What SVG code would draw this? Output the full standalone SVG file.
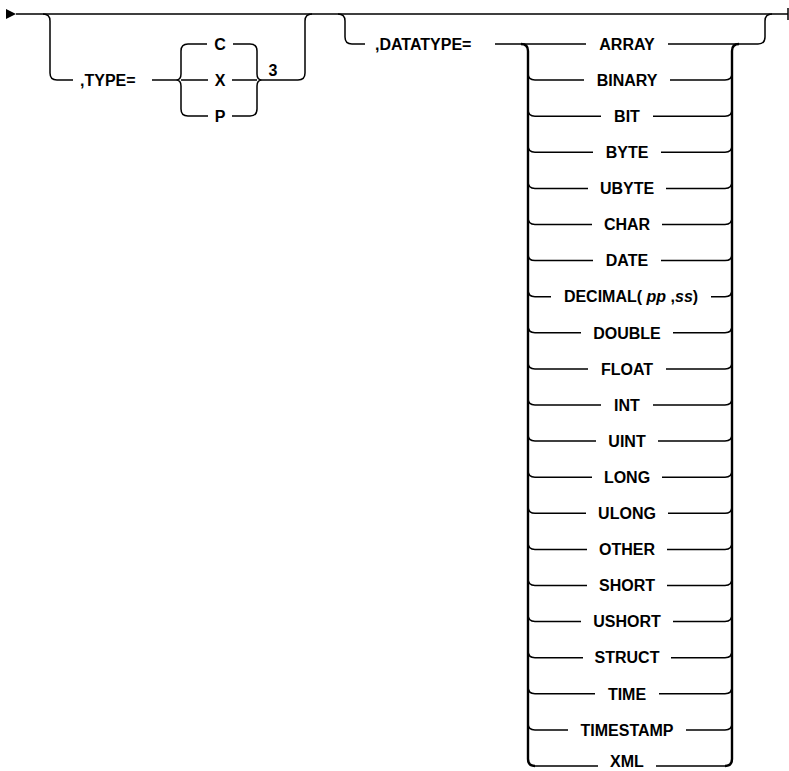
<svg xmlns="http://www.w3.org/2000/svg" width="789" height="771" viewBox="0 0 789 771">
<style>
.ln{fill:none;stroke:#000;stroke-width:1.5;stroke-linecap:butt}
.thk{fill:none;stroke:#000;stroke-width:2.4}
text{font-family:"Liberation Sans",Arial,sans-serif;font-weight:bold;font-size:16px;fill:#000}
.c{text-anchor:middle}
.it{font-style:italic}
</style>
<rect width="789" height="771" fill="#fff"/>
<g id="connectors">
<polygon points="6,9 6,19 16,14" fill="#000"/>
<path class="ln" d="M16,14 L788,14 M788,8 L788,20"/>
<!-- group 1 bracket -->
<path class="ln" d="M43,14 Q50,14 50,21 L50,73 Q50,80 57,80 L73,80"/>
<path class="ln" d="M152,80 L176,80"/>
<path class="ln" d="M188,44 Q181,44 181,51 L181,74 Q181,80 176,80 Q181,80 181,86 L181,109 Q181,116 188,116"/>
<path class="ln" d="M188,44 L207,44 M233,44 L250,44"/>
<path class="ln" d="M181,80 L208,80 M232,80 L257,80"/>
<path class="ln" d="M188,116 L208,116 M232,116 L250,116"/>
<path class="ln" d="M250,44 Q257,44 257,51 L257,74 Q257,80 262,80 Q257,80 257,86 L257,109 Q257,116 250,116"/>
<path class="ln" d="M262,80 L298,80 Q305,80 305,73 L305,21 Q305,14 312,14"/>
<!-- group 2 bracket -->
<path class="ln" d="M338,14 Q345,14 345,21 L345,37 Q345,44 352,44 L365,44"/>
<path class="ln" d="M495,44 L586,44 M668,44 L758,44 Q765,44 765,37 L765,21 Q765,14 772,14"/>
<path class="thk" d="M521,44 Q528,44 528,51 L528,759 Q528,766 535,766"/>
<path class="thk" d="M725,766 Q732,766 732,759 L732,51 Q732,44 739,44"/>
<!-- rows left/right segments -->
<path class="ln" d="
M528,73.1 Q528,80.1 535,80.1 L584,80.1 M670,80.1 L725,80.1 Q732,80.1 732,73.1
M528,109.2 Q528,116.2 535,116.2 L601,116.2 M653,116.2 L725,116.2 Q732,116.2 732,109.2
M528,145.3 Q528,152.3 535,152.3 L593,152.3 M661,152.3 L725,152.3 Q732,152.3 732,145.3
M528,181.4 Q528,188.4 535,188.4 L588,188.4 M666,188.4 L725,188.4 Q732,188.4 732,181.4
M528,217.5 Q528,224.5 535,224.5 L592,224.5 M662,224.5 L725,224.5 Q732,224.5 732,217.5
M528,253.6 Q528,260.6 535,260.6 L593,260.6 M661,260.6 L725,260.6 Q732,260.6 732,253.6
M528,289.7 Q528,296.7 535,296.7 L551,296.7 M711,296.7 L725,296.7 Q732,296.7 732,289.7
M528,325.8 Q528,332.8 535,332.8 L581,332.8 M673,332.8 L725,332.8 Q732,332.8 732,325.8
M528,361.9 Q528,368.9 535,368.9 L588,368.9 M666,368.9 L725,368.9 Q732,368.9 732,361.9
M528,398 Q528,405 535,405 L601,405 M653,405 L725,405 Q732,405 732,398
M528,434.1 Q528,441.1 535,441.1 L596,441.1 M658,441.1 L725,441.1 Q732,441.1 732,434.1
M528,470.2 Q528,477.2 535,477.2 L592,477.2 M662,477.2 L725,477.2 Q732,477.2 732,470.2
M528,506.3 Q528,513.3 535,513.3 L586,513.3 M668,513.3 L725,513.3 Q732,513.3 732,506.3
M528,542.4 Q528,549.4 535,549.4 L587,549.4 M667,549.4 L725,549.4 Q732,549.4 732,542.4
M528,578.5 Q528,585.5 535,585.5 L587,585.5 M667,585.5 L725,585.5 Q732,585.5 732,578.5
M528,614.6 Q528,621.6 535,621.6 L581,621.6 M673,621.6 L725,621.6 Q732,621.6 732,614.6
M528,650.7 Q528,657.7 535,657.7 L583,657.7 M671,657.7 L725,657.7 Q732,657.7 732,650.7
M528,686.8 Q528,693.8 535,693.8 L595,693.8 M659,693.8 L725,693.8 Q732,693.8 732,686.8
M528,722.9 Q528,729.9 535,729.9 L568,729.9 M686,729.9 L725,729.9 Q732,729.9 732,722.9
M535,766 L598,766 M656,766 L725,766"/>
</g>
<g id="type"><text x="80" y="85.7">,TYPE=</text></g>
<g id="c"><text class="c" x="220" y="49.7">C</text></g>
<g id="x"><text class="c" x="220" y="85.7">X</text></g>
<g id="p"><text class="c" x="220" y="121.7">P</text></g>
<g id="rep3"><text class="c" x="273" y="75.5">3</text></g>
<g id="datatype"><text x="375" y="49.7">,DATATYPE=</text></g>
<g id="array"><text class="c" x="627" y="49.7">ARRAY</text></g>
<g id="binary"><text class="c" x="627" y="85.8">BINARY</text></g>
<g id="bit"><text class="c" x="627" y="121.9">BIT</text></g>
<g id="byte"><text class="c" x="627" y="158">BYTE</text></g>
<g id="ubyte"><text class="c" x="627" y="194.1">UBYTE</text></g>
<g id="char"><text class="c" x="627" y="230.2">CHAR</text></g>
<g id="date"><text class="c" x="627" y="266.3">DATE</text></g>
<g id="decimal"><text class="c" x="631" y="302.4">DECIMAL( <tspan class="it">pp</tspan> ,<tspan class="it">ss</tspan>)</text></g>
<g id="double"><text class="c" x="627" y="338.5">DOUBLE</text></g>
<g id="float"><text class="c" x="627" y="374.6">FLOAT</text></g>
<g id="int"><text class="c" x="627" y="410.7">INT</text></g>
<g id="uint"><text class="c" x="627" y="446.8">UINT</text></g>
<g id="long"><text class="c" x="627" y="482.9">LONG</text></g>
<g id="ulong"><text class="c" x="627" y="519">ULONG</text></g>
<g id="other"><text class="c" x="627" y="555.1">OTHER</text></g>
<g id="short"><text class="c" x="627" y="591.2">SHORT</text></g>
<g id="ushort"><text class="c" x="627" y="627.3">USHORT</text></g>
<g id="struct"><text class="c" x="627" y="663.4">STRUCT</text></g>
<g id="time"><text class="c" x="627" y="699.5">TIME</text></g>
<g id="timestamp"><text class="c" x="627" y="735.6">TIMESTAMP</text></g>
<g id="xml"><text class="c" x="627" y="767">XML</text></g>
</svg>
